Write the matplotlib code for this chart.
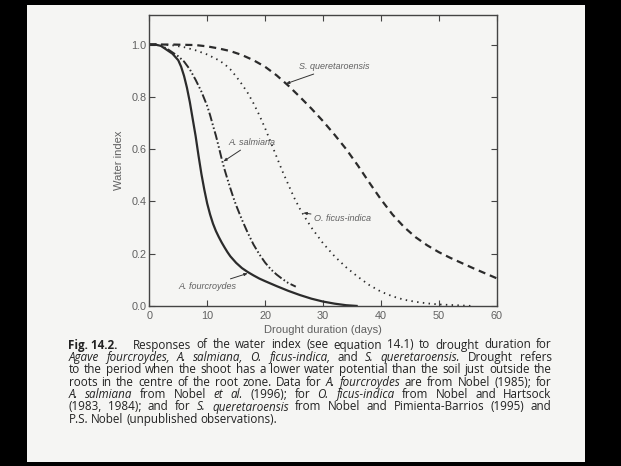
import matplotlib
matplotlib.use("Agg")
import matplotlib.pyplot as plt
from matplotlib.patches import Rectangle

# Water index vs drought duration (days)
fourcroydes_x = [0, 1, 2, 3, 4, 5, 5.5, 6, 6.5, 7, 7.5, 8, 8.5, 9, 9.5, 10, 10.5, 11, 11.5, 12,
                 12.5, 13, 13.5, 14, 15, 16, 17, 18, 19, 20, 22, 24, 26, 28, 30, 32, 34, 36]
fourcroydes_y = [1.0, 1.0, 0.995, 0.98, 0.965, 0.94, 0.915, 0.88, 0.835, 0.78, 0.715, 0.65, 0.575,
                 0.505, 0.445, 0.392, 0.35, 0.315, 0.287, 0.264, 0.243, 0.224, 0.206, 0.19, 0.165,
                 0.145, 0.13, 0.117, 0.105, 0.095, 0.076, 0.058, 0.042, 0.028, 0.017, 0.009,
                 0.003, 0.0]

salmiana_x = [0, 1, 2, 3, 4, 5, 6, 7, 8, 9, 10, 10.5, 11, 11.5, 12, 12.5, 13, 13.5, 14, 14.5, 15,
              16, 17, 18, 19, 20, 21, 22, 23, 24, 25.3]
salmiana_y = [1.0, 1.0, 0.995, 0.985, 0.97, 0.955, 0.935, 0.905, 0.865, 0.82, 0.765, 0.73, 0.69,
              0.652, 0.608, 0.563, 0.522, 0.485, 0.45, 0.416, 0.385, 0.33, 0.28, 0.235, 0.198,
              0.166, 0.14, 0.12, 0.103, 0.088, 0.074]

ficus_x = [0, 2, 4, 6, 8, 10, 12, 13, 14, 15, 16, 17, 18, 19, 20, 21, 22, 23, 24, 25, 26, 27, 28,
           29, 30, 31, 32, 34, 36, 38, 40, 42, 44, 46, 48, 50, 52, 54, 56]
ficus_y = [1.0, 1.0, 0.997, 0.99, 0.978, 0.962, 0.94, 0.925, 0.905, 0.878, 0.848, 0.815, 0.775,
           0.73, 0.68, 0.625, 0.57, 0.515, 0.465, 0.415, 0.372, 0.335, 0.30, 0.27, 0.24, 0.215,
           0.19, 0.148, 0.112, 0.08, 0.055, 0.037, 0.024, 0.016, 0.01, 0.006, 0.004, 0.002, 0.0]

queretaroensis_x = [0, 4, 8, 10, 12, 14, 16, 18, 20, 22, 24, 26, 28, 30, 32, 34, 36, 38, 40, 42,
                    44, 46, 48, 50, 52, 54, 56, 58, 60]
queretaroensis_y = [1.0, 1.0, 0.998, 0.993, 0.985, 0.975, 0.96, 0.94, 0.915, 0.882, 0.843, 0.8,
                    0.755, 0.707, 0.655, 0.6, 0.538, 0.472, 0.408, 0.35, 0.302, 0.263, 0.232,
                    0.206, 0.184, 0.164, 0.144, 0.125, 0.106]

x_ticks = [0, 10, 20, 30, 40, 50, 60]
y_ticks = [0.0, 0.2, 0.4, 0.6, 0.8, 1.0]

caption = [
    [("Fig. 14.2.", "b"), ("Responses of the water index (see equation 14.1) to drought duration for", "n")],
    [("Agave fourcroydes, A. salmiana, O. ficus-indica,", "i"), ("and", "n"),
     ("S. queretaroensis.", "i"), ("Drought refers", "n")],
    [("to the period when the shoot has a lower water potential than the soil just outside the", "n")],
    [("roots in the centre of the root zone. Data for", "n"), ("A. fourcroydes", "i"),
     ("are from Nobel (1985); for", "n")],
    [("A. salmiana", "i"), ("from Nobel", "n"), ("et al.", "i"), ("(1996); for", "n"),
     ("O. ficus-indica", "i"), ("from Nobel and Hartsock", "n")],
    [("(1983, 1984); and for", "n"), ("S. queretaroensis", "i"),
     ("from Nobel and Pimienta-Barrios (1995) and", "n")],
    [("P.S. Nobel (unpublished observations).", "n")],
]

W, H = 621, 466
LINE = "#2b2b2b"
TEXT = "#606060"
PAGE = "#f5f5f3"

fig = plt.figure(figsize=(W / 100, H / 100), dpi=100, facecolor="black")
fig.patches.append(Rectangle((27 / W, 4.5 / H), 558 / W, 456.5 / H, transform=fig.transFigure,
                             facecolor=PAGE, edgecolor="none", zorder=-5))

ax = fig.add_axes([149.3 / W, 1 - 306 / H, 347.4 / W, 291 / H])
ax.set_facecolor(PAGE)
ax.plot(fourcroydes_x, fourcroydes_y, color=LINE, lw=1.6, solid_capstyle="butt")
ax.plot(salmiana_x, salmiana_y, color=LINE, lw=1.4, dashes=(4.5, 1.3, 0.8, 1.3, 0.8, 1.3))
ax.plot(ficus_x, ficus_y, color=LINE, lw=1.3, dashes=(0.8, 2.4))
ax.plot(queretaroensis_x, queretaroensis_y, color=LINE, lw=1.6, dashes=(3.2, 2.2))

ax.set_xlim(0, 60)
ax.set_ylim(0, 1.113)
ax.set_xticks(x_ticks)
ax.set_yticks(y_ticks)
ax.set_yticklabels(["%.1f" % v for v in y_ticks])
ax.tick_params(direction="in", top=True, right=True, length=4, width=0.8, color="#444444",
               labelsize=7.8, labelcolor=TEXT)
ax.tick_params(axis="x", pad=3.5)
ax.tick_params(axis="y", pad=2)
for lab in ax.get_xticklabels() + ax.get_yticklabels():
    lab.set_family("Liberation Sans")
for s in ax.spines.values():
    s.set_color("#444444")
    s.set_linewidth(1.0)

ax.set_xlabel("Drought duration (days)", fontsize=8, color=TEXT, family="Liberation Sans", labelpad=3)
ax.set_ylabel("Water index", fontsize=8, color=TEXT, family="Liberation Sans", labelpad=5)

# curve labels with little arrows
arrow = dict(arrowstyle="-|>,head_length=0.3,head_width=0.12", color="#333333", lw=0.7,
             shrinkA=0, shrinkB=0)
lab_kw = dict(fontsize=6.5, style="italic", color=TEXT, family="Liberation Sans", va="center")
ax.annotate("S. queretaroensis", xy=(23.6, 0.85), xytext=(25.9, 0.915), arrowprops=arrow, **lab_kw)
ax.annotate("A. salmiana", xy=(12.8, 0.553), xytext=(13.6, 0.624), arrowprops=arrow, **lab_kw)
ax.annotate("O. ficus-indica", xy=(26.6, 0.356), xytext=(28.4, 0.335), arrowprops=arrow, **lab_kw)
ax.annotate("A. fourcroydes", xy=(17.0, 0.125), xytext=(15.1, 0.076), arrowprops=arrow,
            ha="right", **lab_kw)

# caption, justified between two margins like the printed page
cap_left, cap_right = 68.5, 551.5
base0, step = 348.5, 12.4
cap_size = 8.4
renderer = fig.canvas.get_renderer()
for i, line in enumerate(caption):
    words = []
    for seg, st in line:
        if st == "b":
            words.append((seg, st))
        else:
            for w in seg.split(" "):
                words.append((w, st))
    texts = []
    for w, st in words:
        t = fig.text(0, 0, w, fontsize=cap_size, family="Open Sans", color="#222222",
                     weight="bold" if st == "b" else "normal",
                     style="italic" if st == "i" else "normal", va="baseline")
        texts.append(t)
    widths = [t.get_window_extent(renderer).width for t in texts]
    extra = [0.0] * len(words)
    if i == 0:
        extra[1] = 10.0
    if i == len(caption) - 1:
        gap = 2.8
    else:
        gap = (cap_right - cap_left - sum(widths) - sum(extra)) / (len(words) - 1)
    x = cap_left
    yb = 1 - (base0 + i * step) / H
    for t, wd, ex in zip(texts, widths, extra):
        x += ex
        t.set_position((x / W, yb))
        x += wd + gap

fig.savefig("out.png", dpi=100, facecolor=fig.get_facecolor())
